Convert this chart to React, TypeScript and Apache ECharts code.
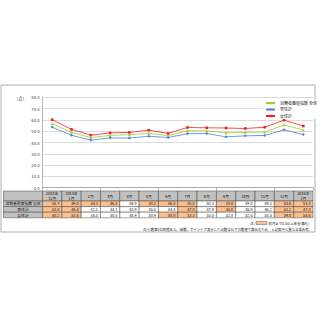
import React, { useEffect, useRef } from "react";
import * as echarts from "echarts";

const categories = ["2014年\n12月", "2015年\n1月", "2月", "3月", "4月", "5月", "6月", "7月", "8月", "9月", "10月", "11月", "12月", "2016年\n1月"];
const seriesNames = ["消費者態度指数 全体", "男性計", "女性計"];
const totalValues = [56.7, 49.0, 44.3, 46.3, 46.9, 48.1, 46.0, 50.5, 50.3, 48.6, 49.0, 49.3, 55.6, 51.0];
const maleValues = [53.6, 46.4, 42.1, 44.1, 43.9, 45.5, 44.4, 47.8, 47.9, 45.0, 45.9, 46.2, 51.2, 47.0];
const femaleValues = [60.2, 51.6, 46.5, 48.5, 48.9, 50.9, 48.0, 53.3, 53.0, 52.8, 52.4, 53.5, 59.8, 54.6];
const highlightTotal = [1, 1, 1, 1, 0, 1, 1, 1, 0, 1, 0, 0, 1, 1];
const highlightMale = [1, 1, 0, 0, 0, 0, 0, 1, 0, 1, 0, 0, 1, 1];
const highlightFemale = [1, 1, 0, 0, 0, 0, 1, 1, 0, 0, 0, 0, 1, 1];
const yMin = 0;
const yMax = 80;
const yInterval = 10;
const unitLabel = "（点）";
const note1 = "前月比で0.5以上改善(悪化)";
const note2 = "注)小数第2位四捨五入。端数、ポイントで表示した点数は以下の数値で算出のため、上記表中と異なる場合有。";

const FONT = "'Noto Sans CJK JP', 'Noto Sans', sans-serif";
const colors = ["#a4cc2e", "#4f7fd8", "#ee2222"];

export default function App() {
  const ref = useRef<HTMLDivElement>(null);
  useEffect(() => {
    if (!ref.current) return;
    const chart = echarts.init(ref.current, undefined, { renderer: "svg" });
    const gridLeft = 42.5;
    const gridTop = 97.3;
    const gridWidth = 270.5;
    const gridHeight = 90.4;
    const bw = gridWidth / categories.length;
    const tableTop = 191;
    const headerH = 10;
    const rowH = 5.6;
    const labelLeft = 3.5;
    const rows = [
      { name: seriesNames[0], values: totalValues, hl: highlightTotal },
      { name: seriesNames[1], values: maleValues, hl: highlightMale },
      { name: seriesNames[2], values: femaleValues, hl: highlightFemale },
    ];
    const cellStroke = { stroke: "#444", lineWidth: 0.5 };
    const tableEls: any[] = [];
    tableEls.push({ type: "rect", shape: { x: labelLeft, y: tableTop, width: gridLeft - labelLeft, height: headerH }, style: { fill: "#c0c0c0", ...cellStroke } });
    categories.forEach((c, i) => {
      const x = gridLeft + i * bw;
      tableEls.push({ type: "rect", shape: { x, y: tableTop, width: bw, height: headerH }, style: { fill: "#c0c0c0", ...cellStroke } });
      tableEls.push({ type: "text", x: x + bw / 2, y: tableTop + headerH / 2, style: { text: c, fontSize: 3.8, lineHeight: 4.2, fontFamily: FONT, fill: "#111", align: "center", verticalAlign: "middle" } });
    });
    rows.forEach((r, ri) => {
      const y = tableTop + headerH + ri * rowH;
      tableEls.push({ type: "rect", shape: { x: labelLeft, y, width: gridLeft - labelLeft, height: rowH }, style: { fill: "#c0c0c0", ...cellStroke } });
      tableEls.push({ type: "text", x: (labelLeft + gridLeft) / 2, y: y + rowH / 2, style: { text: r.name, fontSize: 3.8, fontFamily: FONT, fill: "#111", align: "center", verticalAlign: "middle" } });
      r.values.forEach((v, i) => {
        const x = gridLeft + i * bw;
        tableEls.push({ type: "rect", shape: { x, y, width: bw, height: rowH }, style: { fill: r.hl[i] ? "#fabf8f" : "#ffffff", ...cellStroke } });
        tableEls.push({ type: "text", x: x + bw - 2.5, y: y + rowH / 2, style: { text: v.toFixed(1), fontSize: 3.8, fontFamily: FONT, fill: "#111", align: "right", verticalAlign: "middle" } });
      });
    });

    const mkSeries = (name: string, data: number[], color: string, symbol: string, size: number) => ({
      name,
      type: "line",
      data,
      symbol,
      symbolSize: size,
      lineStyle: { color, width: 0.8 },
      itemStyle: { color },
      z: 3,
    });

    chart.setOption({
      animation: false,
      backgroundColor: "#ffffff",
      textStyle: { fontFamily: FONT },
      grid: { left: gridLeft, top: gridTop, width: gridWidth, height: gridHeight, outerBoundsMode: "none" },
      legend: {
        orient: "vertical",
        left: 263,
        top: 100,
        itemWidth: 9,
        itemHeight: 3,
        itemGap: 2.5,
        padding: [1, 3, 1, 2],
        backgroundColor: "#ffffff",
        textStyle: { fontSize: 4, fontFamily: FONT, color: "#222" },
        data: seriesNames,
      },
      xAxis: {
        type: "category",
        data: categories,
        boundaryGap: true,
        axisLabel: { show: false },
        axisTick: { show: true, length: 3, lineStyle: { color: "#888", width: 0.6 } },
        axisLine: { lineStyle: { color: "#888", width: 0.6 } },
      },
      yAxis: {
        type: "value",
        min: yMin,
        max: yMax,
        interval: yInterval,
        axisLine: { show: true, lineStyle: { color: "#888", width: 0.6 } },
        axisTick: { show: false },
        axisLabel: { fontSize: 4.2, color: "#333", margin: 3, fontFamily: FONT, formatter: (v: number) => v.toFixed(1) },
        splitLine: { lineStyle: { color: "#c4c4c4", width: 0.6 } },
      },
      series: [
        mkSeries(seriesNames[0], totalValues, colors[0], "triangle", 3),
        mkSeries(seriesNames[1], maleValues, colors[1], "diamond", 3),
        mkSeries(seriesNames[2], femaleValues, colors[2], "rect", 2.6),
      ],
      graphic: [
        { type: "rect", shape: { x: 1, y: 85, width: 314, height: 147 }, style: { fill: "none", stroke: "#999", lineWidth: 0.8 }, z: 0 },
        { type: "text", x: 14, y: 97.5, style: { text: unitLabel, fontSize: 4.2, fontFamily: FONT, fill: "#333", verticalAlign: "middle" } },
        ...tableEls,
        { type: "text", x: 250, y: 223, style: { text: "注)", fontSize: 3.4, fontFamily: FONT, fill: "#222", verticalAlign: "middle" } },
        { type: "rect", shape: { x: 256, y: 221.4, width: 11, height: 3.2 }, style: { fill: "#fabf8f", stroke: "#444", lineWidth: 0.4 } },
        { type: "text", x: 268.5, y: 223, style: { text: note1, fontSize: 3.4, fontFamily: FONT, fill: "#222", verticalAlign: "middle" } },
        { type: "text", x: 312, y: 229, style: { text: note2, fontSize: 3.4, fontFamily: FONT, fill: "#222", align: "right", verticalAlign: "middle" } },
      ],
    });
    return () => chart.dispose();
  }, []);
  return <div ref={ref} style={{ position: "fixed", left: 0, top: 0, width: 320, height: 320 }} />;
}
